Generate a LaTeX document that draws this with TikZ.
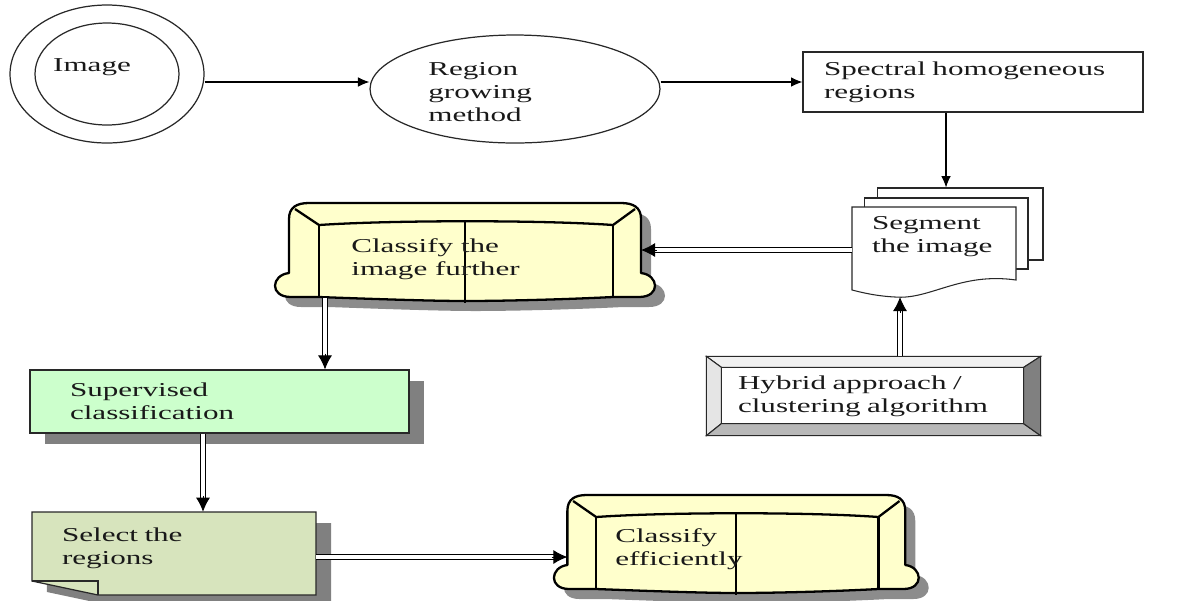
\documentclass[tikz,border=0pt]{standalone}
\usepackage{fontspec}
\setmainfont{Liberation Serif}[FakeStretch=1.58]
\usetikzlibrary{shapes.geometric,arrows.meta,shadows}

\definecolor{sofayellow}{RGB}{255,255,204}
\definecolor{supgreen}{RGB}{204,255,204}
\definecolor{selgreen}{RGB}{215,228,189}
\definecolor{shadowgray}{RGB}{128,128,128}
\definecolor{linegray}{RGB}{40,40,40}

\tikzset{
  txt/.style={font=\fontsize{11.2}{13.1}\selectfont, align=left, inner sep=0pt, text=black!90},
  arr/.style={-{Latex[length=6.5pt,width=5.5pt]}, line width=.6pt},
  dbl/.style={draw=white, line width=1.8pt, shorten >=6pt,
    preaction={draw=black, line width=3pt, shorten >=6pt}},
  tip/.style={-{Latex[length=8pt,width=8pt]}, line width=.5pt},
  shade/.style={drop shadow={shadow xshift=.3cm, shadow yshift=-.22cm, fill=shadowgray, opacity=1}},
  sofa/.pic={
    \filldraw[fill=sofayellow, line width=1.3pt, line join=round,
      drop shadow={shadow xshift=.2cm, shadow yshift=-.2cm, fill=shadowgray, opacity=.9}]
      (16,70) -- (16,16) .. controls (16,4) and (24,0) .. (36,0) -- (348,0)
      .. controls (360,0) and (368,4) .. (368,16) -- (368,70)
      .. controls (386,72) and (388,94) .. (366,94) -- (340,94)
      .. controls (280,97) and (220,98) .. (192,98)
      .. controls (160,98) and (100,96) .. (46,94) -- (18,94)
      .. controls (-4,94) and (-2,72) .. (16,70) -- cycle;
    \draw[line width=1.3pt] (22,6) -- (46,22) .. controls (120,17) and (270,17) .. (340,22) -- (362,6);
    \draw[line width=1.3pt] (46,22) -- (46,94) (340,22) -- (340,94) (192,19) -- (192,100);
    \coordinate (-e) at (368,47);
    \coordinate (-w) at (16,62);
    \coordinate (-s) at (52,95);
  }
}

\begin{document}
\begin{tikzpicture}[x=0.02cm, y=-0.02cm]
\useasboundingbox (0,0) rectangle (1182,600);

% first row
\node[draw=linegray, line width=.7pt, ellipse, minimum width=3.88cm, minimum height=2.76cm] (img) at (107,74) {};
\draw[linegray, line width=.7pt] (img.center) ellipse [x radius=72, y radius=51];
\node[txt] (imgtxt) at (92,67) {Image};

\node[draw=linegray, line width=.7pt, ellipse, minimum width=5.8cm, minimum height=2.16cm] (grow) at (515,89) {};
\node[txt, anchor=west] (growtxt) at (428,92) {Region\\growing\\method};

\node[txt, draw=linegray, line width=.7pt, text width=5.96cm, inner xsep=.42cm, minimum height=1.2cm] (spec) at (973,82) {Spectral homogeneous\\regions};

\coordinate (row) at (0,82);
\draw[arr] (img.east |- row) -- (grow.west |- row);
\draw[arr] (grow.east |- row) -- (spec.west);

% stack of pages
\node[draw=linegray, fill=white, line width=.6pt, minimum width=3.32cm, minimum height=1.44cm] (seg3) at (960,224) {};
\node[draw=linegray, fill=white, line width=.6pt, minimum width=3.28cm, minimum height=1.42cm] (seg2) at (946,233.5) {};
\filldraw[fill=white, draw=linegray, line width=.6pt] (852,207) -- (1016,207) -- (1016,280)
  .. controls (960,272) and (930,300) .. (895,297) .. controls (875,296) and (860,292) .. (852,290) -- cycle;
\node[txt, text width=2.48cm, inner xsep=.4cm, minimum height=1.2cm] (seg) at (934,237) {Segment\\the image};
\coordinate (segfoot) at (900,297);

\draw[arr] (spec.south -| seg2) -- (seg3.north -| seg2);

% sofa one
\pic (sofaA) at (273,203) {sofa};
\node[txt, anchor=west] (cls1) at (351,259) {Classify the\\image further};
\draw[dbl] (seg.west |- sofaA-e) -- (sofaA-e);
\draw[tip] ([xshift=9pt]sofaA-e) -- (sofaA-e);

% hybrid box
\node[txt, draw=linegray, fill=white, line width=.7pt, text width=5.42cm, inner xsep=.62cm, minimum height=1.56cm] (hyb) at (873.5,396) {Hybrid approach /\\clustering algorithm};
\coordinate (h1) at ([shift={(15,11)}]hyb.north west);
\coordinate (h2) at ([shift={(-17,11)}]hyb.north east);
\coordinate (h3) at ([shift={(-17,-12)}]hyb.south east);
\coordinate (h4) at ([shift={(15,-12)}]hyb.south west);
\filldraw[fill=black!6, draw=linegray, line width=.6pt] (hyb.north west) -- (hyb.north east) -- (h2) -- (h1) -- cycle;
\filldraw[fill=black!10, draw=linegray, line width=.6pt] (hyb.north west) -- (h1) -- (h4) -- (hyb.south west) -- cycle;
\filldraw[fill=black!28, draw=linegray, line width=.6pt] (hyb.south west) -- (h4) -- (h3) -- (hyb.south east) -- cycle;
\filldraw[fill=black!50, draw=linegray, line width=.6pt] (hyb.north east) -- (hyb.south east) -- (h3) -- (h2) -- cycle;
\draw[dbl] (hyb.north -| segfoot) -- (segfoot);
\draw[tip] ([yshift=-9pt]segfoot) -- (segfoot);

% supervised
\node[txt, fill=supgreen, draw=linegray, line width=.7pt, text width=5.98cm, inner xsep=.8cm, minimum height=1.26cm, shade] (sup) at (219.5,401.5) {Supervised\\classification};
\coordinate (supin) at (sofaA-s |- sup.north);
\draw[dbl] (sofaA-s) -- (supin);
\draw[tip] ([yshift=9pt]supin) -- (supin);

% select the regions
\filldraw[fill=selgreen, draw=linegray, line width=.7pt, shade] (32,512) -- (316,512) -- (316,595) -- (98,595) -- (32,581) -- cycle;
\draw[linegray, line width=.7pt] (32,581) -- (98,581) -- (98,595);
\node[txt, text width=4.48cm, inner xsep=.6cm, minimum height=1.44cm] (sel) at (174,548) {Select the\\regions};
\coordinate (supout) at ([xshift=-.33cm]sup.south);
\coordinate (selin) at (supout |- sel.north);
\draw[dbl] (supout) -- (selin);
\draw[tip] ([yshift=9pt]selin) -- (selin);

% sofa two
\pic[xscale=.96] (sofaB) at (552,495) {sofa};
\node[txt, anchor=west] (cls2) at (615,549) {Classify\\efficiently};
\draw[dbl] (sel.east |- sofaB-w) -- (sofaB-w);
\draw[tip] ([xshift=-9pt]sofaB-w) -- (sofaB-w);
\end{tikzpicture}
\end{document}
